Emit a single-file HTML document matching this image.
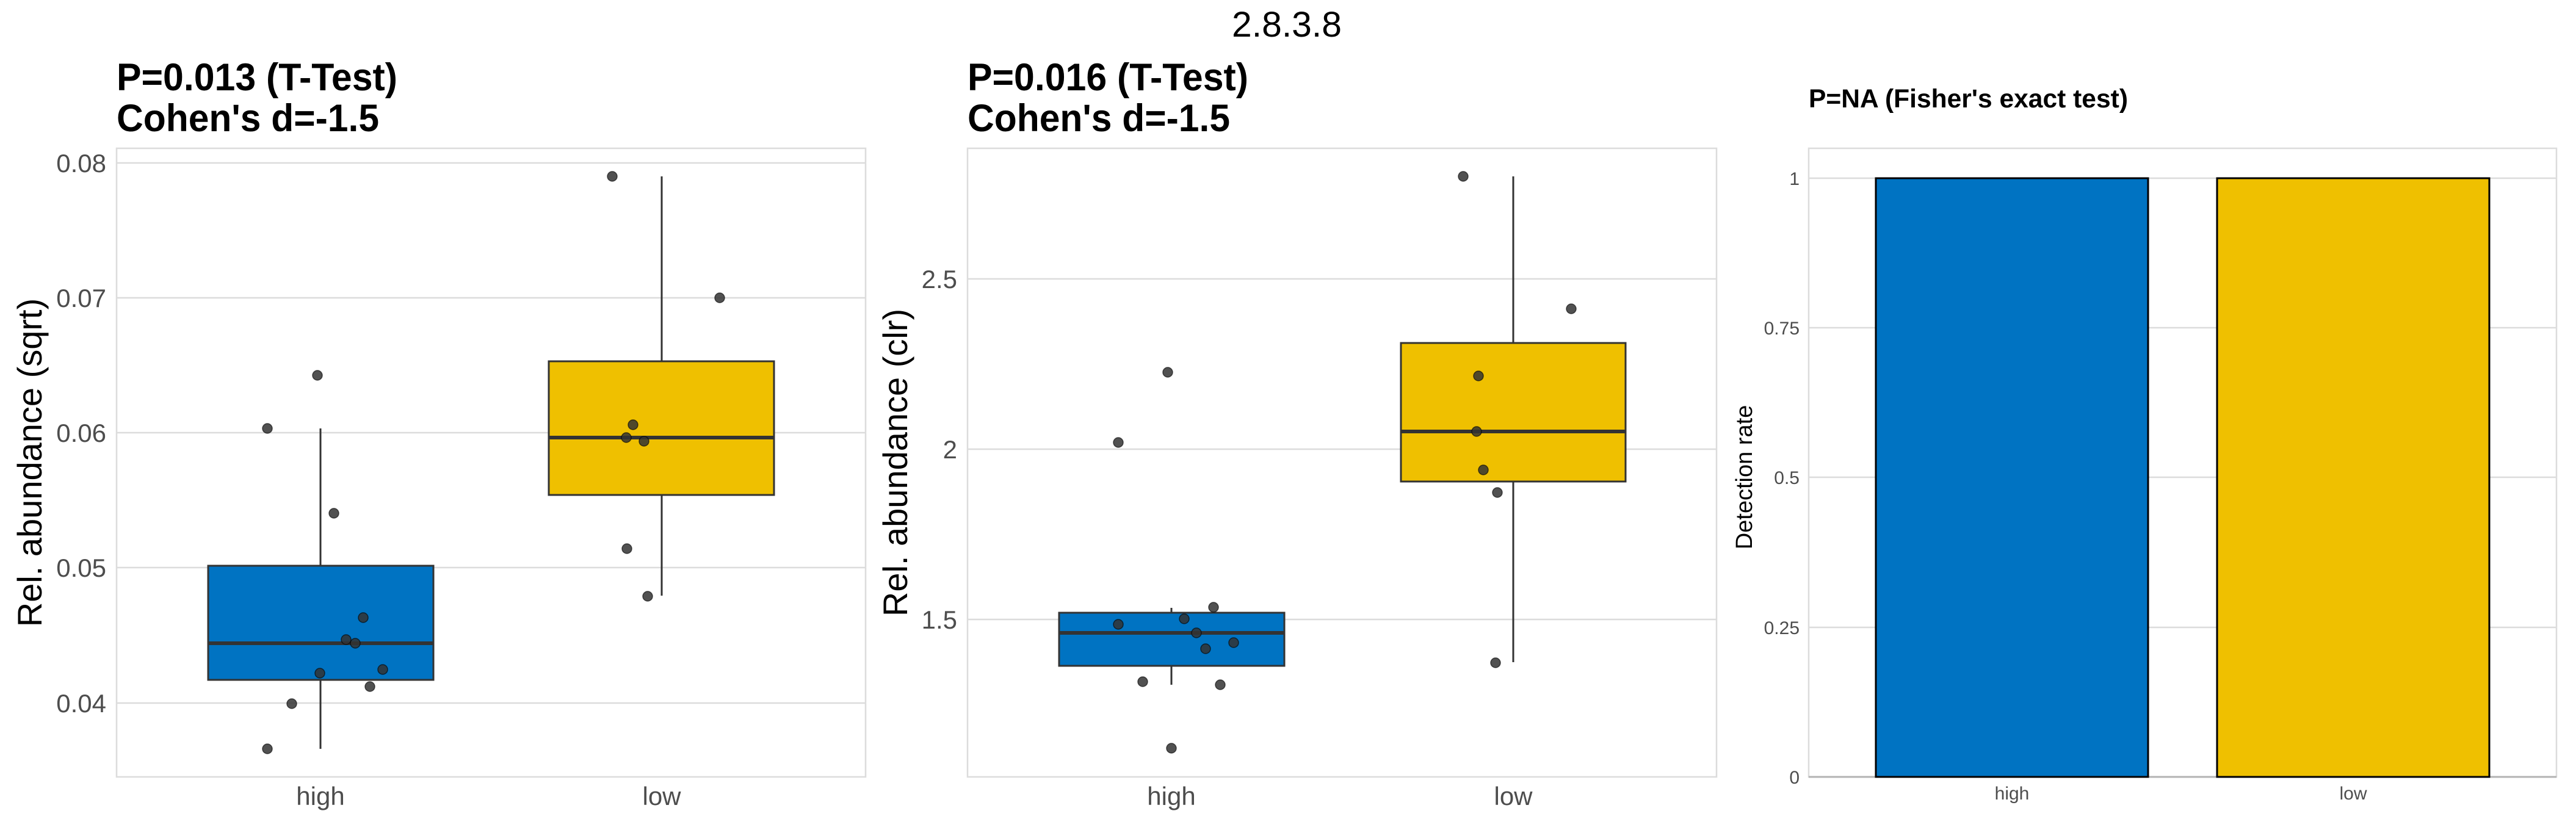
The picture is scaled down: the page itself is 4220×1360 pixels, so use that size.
<!DOCTYPE html>
<html><head><meta charset="utf-8"><style>
html,body{margin:0;padding:0;background:#fff;}
svg{display:block;font-family:"Liberation Sans",Arial,sans-serif;}
.g{stroke:#dcdcdc;stroke-width:2.5;fill:none}
.tk{fill:#4d4d4d;font-size:42px}
.pt{fill:#333;fill-opacity:0.85;stroke:#000;stroke-opacity:0.6;stroke-width:1.5}
</style></head><body>
<svg width="4220" height="1360" viewBox="0 0 4220 1360" xmlns="http://www.w3.org/2000/svg">
<rect width="4220" height="1360" fill="#fff"/>
<text x="2108" y="60" font-size="58" text-anchor="middle" textLength="180" lengthAdjust="spacingAndGlyphs">2.8.3.8</text>

<!-- Panel 1 -->
<text x="191" y="148" font-size="63" font-weight="bold" textLength="460" lengthAdjust="spacingAndGlyphs">P=0.013 (T-Test)</text>
<text x="191" y="215" font-size="63" font-weight="bold" textLength="430" lengthAdjust="spacingAndGlyphs">Cohen's d=-1.5</text>
<rect x="191" y="243" width="1227" height="1030" class="g"/>
<g class="g">
<line x1="191" y1="267" x2="1418" y2="267"/><line x1="191" y1="488" x2="1418" y2="488"/>
<line x1="191" y1="709" x2="1418" y2="709"/><line x1="191" y1="930" x2="1418" y2="930"/>
<line x1="191" y1="1152" x2="1418" y2="1152"/>
</g>
<g class="tk" text-anchor="end">
<text x="174" y="282">0.08</text><text x="174" y="503">0.07</text><text x="174" y="724">0.06</text>
<text x="174" y="945">0.05</text><text x="174" y="1167">0.04</text>
</g>
<text transform="translate(68,758) rotate(-90)" font-size="56" text-anchor="middle">Rel. abundance (sqrt)</text>
<g stroke="#333" stroke-width="3">
<line x1="525" y1="702" x2="525" y2="1227"/>
<line x1="1084" y1="289" x2="1084" y2="976"/>
</g>
<rect x="341" y="927" width="369" height="187" fill="#0073c2" stroke="#333" stroke-width="3"/>
<line x1="341" y1="1054" x2="710" y2="1054" stroke="#333" stroke-width="6"/>
<rect x="899" y="592" width="369" height="219" fill="#efc000" stroke="#333" stroke-width="3"/>
<line x1="899" y1="717" x2="1268" y2="717" stroke="#333" stroke-width="6"/>
<g class="pt">
<circle cx="438" cy="702" r="8"/><circle cx="520" cy="615" r="8"/><circle cx="547" cy="841" r="8"/>
<circle cx="595" cy="1012" r="8"/><circle cx="567" cy="1048" r="8"/><circle cx="582" cy="1054" r="8"/>
<circle cx="524" cy="1103" r="8"/><circle cx="627" cy="1097" r="8"/><circle cx="606" cy="1125" r="8"/>
<circle cx="478" cy="1153" r="8"/><circle cx="438" cy="1227" r="8"/>
<circle cx="1003" cy="289" r="8"/><circle cx="1179" cy="488" r="8"/><circle cx="1037" cy="696" r="8"/>
<circle cx="1026" cy="717" r="8"/><circle cx="1055" cy="723" r="8"/><circle cx="1027" cy="899" r="8"/>
<circle cx="1061" cy="977" r="8"/>
</g>
<g class="tk" text-anchor="middle">
<text x="525" y="1319">high</text><text x="1084" y="1319">low</text>
</g>

<!-- Panel 2 -->
<text x="1585" y="148" font-size="63" font-weight="bold" textLength="460" lengthAdjust="spacingAndGlyphs">P=0.016 (T-Test)</text>
<text x="1585" y="215" font-size="63" font-weight="bold" textLength="430" lengthAdjust="spacingAndGlyphs">Cohen's d=-1.5</text>
<rect x="1585" y="243" width="1227" height="1030" class="g"/>
<g class="g">
<line x1="1585" y1="457" x2="2812" y2="457"/><line x1="1585" y1="736" x2="2812" y2="736"/>
<line x1="1585" y1="1015" x2="2812" y2="1015"/>
</g>
<g class="tk" text-anchor="end">
<text x="1568" y="472">2.5</text><text x="1568" y="751">2</text><text x="1568" y="1030">1.5</text>
</g>
<text transform="translate(1486,758) rotate(-90)" font-size="56" text-anchor="middle">Rel. abundance (clr)</text>
<g stroke="#333" stroke-width="3">
<line x1="1919" y1="996" x2="1919" y2="1122"/>
<line x1="2479" y1="289" x2="2479" y2="1085"/>
</g>
<rect x="1735" y="1004" width="369" height="87" fill="#0073c2" stroke="#333" stroke-width="3"/>
<line x1="1735" y1="1037" x2="2104" y2="1037" stroke="#333" stroke-width="6"/>
<rect x="2295" y="562" width="368" height="227" fill="#efc000" stroke="#333" stroke-width="3"/>
<line x1="2295" y1="707" x2="2663" y2="707" stroke="#333" stroke-width="6"/>
<g class="pt">
<circle cx="1832" cy="725" r="8"/><circle cx="1913" cy="610" r="8"/><circle cx="1832" cy="1023" r="8"/>
<circle cx="1940" cy="1014" r="8"/><circle cx="1960" cy="1037" r="8"/><circle cx="1975" cy="1063" r="8"/>
<circle cx="2021" cy="1053" r="8"/><circle cx="1988" cy="995" r="8"/><circle cx="1872" cy="1117" r="8"/>
<circle cx="1999" cy="1122" r="8"/><circle cx="1919" cy="1226" r="8"/>
<circle cx="2397" cy="289" r="8"/><circle cx="2574" cy="506" r="8"/><circle cx="2422" cy="616" r="8"/>
<circle cx="2419" cy="707" r="8"/><circle cx="2430" cy="770" r="8"/><circle cx="2453" cy="807" r="8"/>
<circle cx="2450" cy="1086" r="8"/>
</g>
<g class="tk" text-anchor="middle">
<text x="1919" y="1319">high</text><text x="2479" y="1319">low</text>
</g>

<!-- Panel 3 -->
<text x="2963" y="176" font-size="43" font-weight="bold" textLength="523" lengthAdjust="spacingAndGlyphs">P=NA (Fisher's exact test)</text>
<rect x="2963" y="243" width="1225" height="1030" class="g"/>
<g class="g">
<line x1="2963" y1="292" x2="4188" y2="292"/><line x1="2963" y1="537" x2="4188" y2="537"/>
<line x1="2963" y1="782" x2="4188" y2="782"/><line x1="2963" y1="1028" x2="4188" y2="1028"/>
</g>
<line x1="2963" y1="1273" x2="4188" y2="1273" stroke="#b3b3b3" stroke-width="3"/>
<g class="tk" text-anchor="end" font-size="30" style="font-size:30px">
<text x="2948" y="303">1</text><text x="2948" y="548">0.75</text><text x="2948" y="793">0.5</text>
<text x="2948" y="1039">0.25</text><text x="2948" y="1284">0</text>
</g>
<text transform="translate(2870,782) rotate(-90)" font-size="38" text-anchor="middle">Detection rate</text>
<rect x="3073" y="292" width="446" height="981" fill="#0073c2" stroke="#000" stroke-width="3"/>
<rect x="3632" y="292" width="446" height="981" fill="#efc000" stroke="#000" stroke-width="3"/>
<g class="tk" text-anchor="middle" style="font-size:30px">
<text x="3296" y="1310">high</text><text x="3855" y="1310">low</text>
</g>
</svg>
</body></html>
